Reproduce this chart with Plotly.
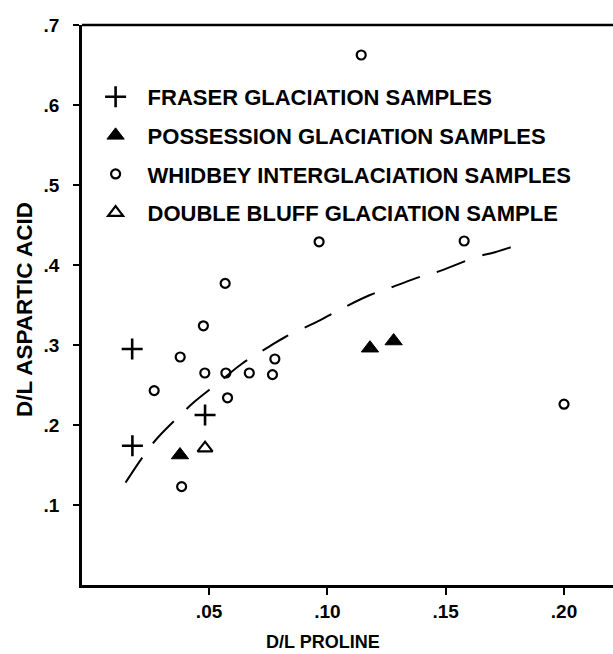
import plotly.graph_objects as go

# ---- data ----
fraser_x = [0.0175, 0.0176, 0.0483]
fraser_y = [0.295, 0.174, 0.2125]

possession_x = [0.0377, 0.118, 0.128]
possession_y = [0.1625, 0.296, 0.305]

whidbey_x = [0.0476, 0.0378, 0.0268, 0.0482, 0.0571, 0.0578, 0.067, 0.0768,
             0.0778, 0.0384, 0.0568, 0.0965, 0.1143, 0.1578, 0.200]
whidbey_y = [0.324, 0.285, 0.243, 0.265, 0.265, 0.234, 0.265, 0.263,
             0.2825, 0.123, 0.377, 0.429, 0.6625, 0.430, 0.226]

double_bluff_x = [0.0483]
double_bluff_y = [0.171]

curve_x = [0.0147, 0.0217, 0.0278, 0.0373, 0.0438, 0.054, 0.0636, 0.0754, 0.0822,
           0.097, 0.1038, 0.118, 0.127, 0.140, 0.148, 0.163, 0.1708, 0.1846]
curve_y = [0.128, 0.159, 0.1825, 0.211, 0.229, 0.253, 0.276, 0.298, 0.31,
           0.331, 0.342, 0.3625, 0.372, 0.386, 0.393, 0.41, 0.416, 0.429]

x_tickvals = [0.05, 0.10, 0.15, 0.20]
x_ticktext = [".05", ".10", ".15", ".20"]
y_tickvals = [0.1, 0.2, 0.3, 0.4, 0.5, 0.6, 0.7]
y_ticktext = [".1", ".2", ".3", ".4", ".5", ".6", ".7"]

FONT = "Liberation Sans, Arial, Helvetica, sans-serif"

fig = go.Figure()

fig.add_trace(go.Scatter(
    x=curve_x, y=curve_y, mode="lines", showlegend=False,
    line=dict(color="black", width=2, dash="30px,18px", shape="spline"),
    hoverinfo="skip"))

fig.add_trace(go.Scatter(
    x=fraser_x, y=fraser_y, mode="markers", name="FRASER GLACIATION SAMPLES",
    legendgroup="a",
    marker=dict(symbol="cross-thin-open", size=15, color="black",
                line=dict(color="black", width=2.6))))

fig.add_trace(go.Scatter(
    x=possession_x, y=possession_y, mode="markers", name="POSSESSION GLACIATION SAMPLES",
    legendgroup="b",
    marker=dict(symbol="triangle-up", size=15, color="black",
                line=dict(color="black", width=1))))

fig.add_trace(go.Scatter(
    x=whidbey_x, y=whidbey_y, mode="markers", name="WHIDBEY INTERGLACIATION SAMPLES",
    legendgroup="c",
    marker=dict(symbol="circle-open", size=9, color="black",
                line=dict(color="black", width=2.2))))

fig.add_trace(go.Scatter(
    x=double_bluff_x, y=double_bluff_y, mode="markers", name="DOUBLE BLUFF GLACIATION SAMPLE",
    legendgroup="d",
    marker=dict(symbol="triangle-up-open", size=13, color="black",
                line=dict(color="black", width=2.2))))

fig.update_layout(
    width=613, height=654,
    margin=dict(l=82, r=0, t=25, b=69),
    paper_bgcolor="white", plot_bgcolor="white",
    font=dict(family=FONT, color="black", size=18),
    showlegend=True,
    legend=dict(x=0.003, y=0.909, xanchor="left", yanchor="top",
                bgcolor="rgba(0,0,0,0)", borderwidth=0,
                font=dict(family=FONT, size=22, color="black", weight="bold"),
                tracegroupgap=7, itemwidth=54),
    xaxis=dict(range=[-0.0037, 0.2207], showgrid=False, zeroline=False,
               showline=True, linecolor="black", linewidth=2.5,
               ticks="outside", ticklen=7, tickwidth=2, tickcolor="black",
               tickvals=x_tickvals, ticktext=x_ticktext,
               tickfont=dict(family=FONT, size=19, color="black", weight="bold")),
    yaxis=dict(range=[0, 0.7], showgrid=False, zeroline=False,
               showline=True, linecolor="black", linewidth=2.5,
               ticks="outside", ticklen=6, tickwidth=2, tickcolor="black",
               ticklabelstandoff=10,
               tickvals=y_tickvals, ticktext=y_ticktext,
               tickfont=dict(family=FONT, size=19, color="black", weight="bold")),
    shapes=[dict(type="line", xref="paper", yref="paper", x0=0, x1=1, y0=1, y1=1,
                 line=dict(color="black", width=2.5))],
    annotations=[
        dict(text="D/L PROLINE", xref="paper", yref="paper", x=(323 - 82) / 531, y=0,
             yshift=-57, xanchor="center", yanchor="middle", showarrow=False,
             font=dict(family=FONT, size=18, color="black", weight="bold")),
        dict(text="D/L ASPARTIC ACID", xref="paper", yref="paper", x=0, y=0.491,
             xshift=-58, xanchor="center", yanchor="middle", showarrow=False,
             textangle=-90, font=dict(family=FONT, size=22.5, color="black", weight="bold")),
    ],
)

fig.write_html(
    "out.html",
    config={"displayModeBar": False},
    post_script=(
        "document.body.style.margin='0';"
        "document.body.style.overflow='hidden';"
        "document.documentElement.style.overflow='hidden';"
        "var s=document.createElement('style');"
        "s.textContent='*::-webkit-scrollbar{display:none!important;width:0!important;height:0!important}"
        " *{scrollbar-width:none!important}';"
        "document.head.appendChild(s);"
    ),
)
